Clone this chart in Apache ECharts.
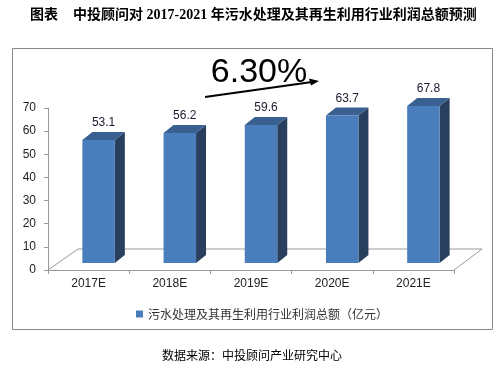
<!DOCTYPE html>
<html>
<head>
<meta charset="utf-8">
<script src="https://cdn.jsdelivr.net/npm/echarts@6/dist/echarts.min.js"></script>
<style>
html,body{margin:0;padding:0;background:#fff;}
#main{width:501px;height:370px;}
</style>
</head>
<body>
<div id="main"></div>
<script>
const categories = ['2017E', '2018E', '2019E', '2020E', '2021E'];
const profitValues = [53.1, 56.2, 59.6, 63.7, 67.8];
const seriesName = '污水处理及其再生利用行业利润总额（亿元）';
const growthLabel = '6.30%';
const titlePrefix = '图表';
const titleText = '中投顾问对 2017-2021 年污水处理及其再生利用行业利润总额预测';
const sourceText = '数据来源：中投顾问产业研究中心';

const chart = echarts.init(document.getElementById('main'), null, {renderer: 'canvas'});

const FRONT = '#4a7dbb', SIDE = '#283f5e', TOP = '#3a5f91';
const CJK = '"Noto Sans CJK SC", sans-serif';

function renderBar(params, api) {
  const cat = api.value(0), val = api.value(1);
  const base = api.coord([cat, 0]);
  const top = api.coord([cat, val]);
  const bw = api.size([1, 0])[0];
  const w = bw * 0.40;
  const ox = 10, oy = -7, dx = 10, dy = -8;
  const x0 = base[0] + ox - w / 2, x1 = x0 + w;
  const yb = base[1] + oy, yt = top[1] + oy;
  return {
    type: 'group',
    children: [
      {type: 'polygon', shape: {points: [[x1, yb], [x1 + dx, yb + dy], [x1 + dx, yt + dy], [x1, yt]]}, style: {fill: SIDE}},
      {type: 'polygon', shape: {points: [[x0, yt], [x0 + dx, yt + dy], [x1 + dx, yt + dy], [x1, yt]]}, style: {fill: TOP}},
      {type: 'rect', shape: {x: x0, y: yt, width: w, height: yb - yt}, style: {fill: FRONT}},
      {type: 'text', x: x0 + (w + dx) / 2, y: yt + dy - 3,
       style: {text: String(val), fill: '#1a1a2e', font: '12px Arial, "Liberation Sans", sans-serif', align: 'center', verticalAlign: 'bottom'}}
    ]
  };
}

const option = {
  animation: false,
  backgroundColor: '#fff',
  grid: {left: 48, right: 47, top: 108, bottom: 100, containLabel: false},
  legend: {
    left: 131, top: 303,
    icon: 'rect', itemWidth: 7, itemHeight: 7, itemGap: 4,
    textStyle: {fontSize: 12, color: '#333', fontFamily: CJK},
    data: [seriesName]
  },
  xAxis: {
    type: 'category',
    data: categories,
    axisLine: {show: true, lineStyle: {color: '#999', width: 1}},
    axisTick: {show: true, length: 4, lineStyle: {color: '#999'}},
    axisLabel: {fontSize: 12, color: '#222', fontFamily: 'Arial, "Liberation Sans", sans-serif', margin: 8},
    splitLine: {show: false}
  },
  yAxis: {
    type: 'value', min: 0, max: 70, interval: 10,
    axisLine: {show: true, lineStyle: {color: '#999', width: 1}},
    axisTick: {show: true, length: 4, lineStyle: {color: '#999'}},
    axisLabel: {fontSize: 12, color: '#222', fontFamily: 'Arial, "Liberation Sans", sans-serif', margin: 12},
    splitLine: {show: false}
  },
  series: [{
    name: seriesName,
    type: 'custom',
    renderItem: renderBar,
    itemStyle: {color: FRONT},
    encode: {x: 0, y: 1},
    data: categories.map((c, i) => [i, profitValues[i]]),
    z: 5
  }],
  graphic: [
    {type: 'rect', shape: {x: 12.5, y: 48.5, width: 480, height: 281}, style: {fill: null, stroke: '#888', lineWidth: 1}, z: 0},
    {type: 'polyline', shape: {points: [[48, 270], [78, 249], [482, 249], [454, 270]]}, style: {stroke: '#999', lineWidth: 1, fill: null}, z: 1},
    {type: 'text', x: 30, y: 15, style: {text: titlePrefix, font: 'bold 14px "Liberation Serif", "Noto Sans CJK SC", serif', fill: '#000', verticalAlign: 'middle'}},
    {type: 'text', x: 73, y: 15, style: {text: titleText, font: 'bold 14px "Liberation Serif", "Noto Sans CJK SC", serif', fill: '#000', verticalAlign: 'middle'}},
    {type: 'text', x: 259, y: 73, style: {text: growthLabel, font: '34px Arial, "Liberation Sans", sans-serif', fill: '#000', align: 'center', verticalAlign: 'middle'}},
    {type: 'line', shape: {x1: 205, y1: 97, x2: 312, y2: 82}, style: {stroke: '#000', lineWidth: 2}},
    {type: 'polygon', shape: {points: [[319, 81], [309, 78.5], [311, 85.5]]}, style: {fill: '#000'}},
    {type: 'text', x: 252, y: 355, style: {text: sourceText, font: '12px "Noto Sans CJK SC", sans-serif', fill: '#000', align: 'center', verticalAlign: 'middle'}}
  ]
};
chart.setOption(option);
</script>
</body>
</html>
